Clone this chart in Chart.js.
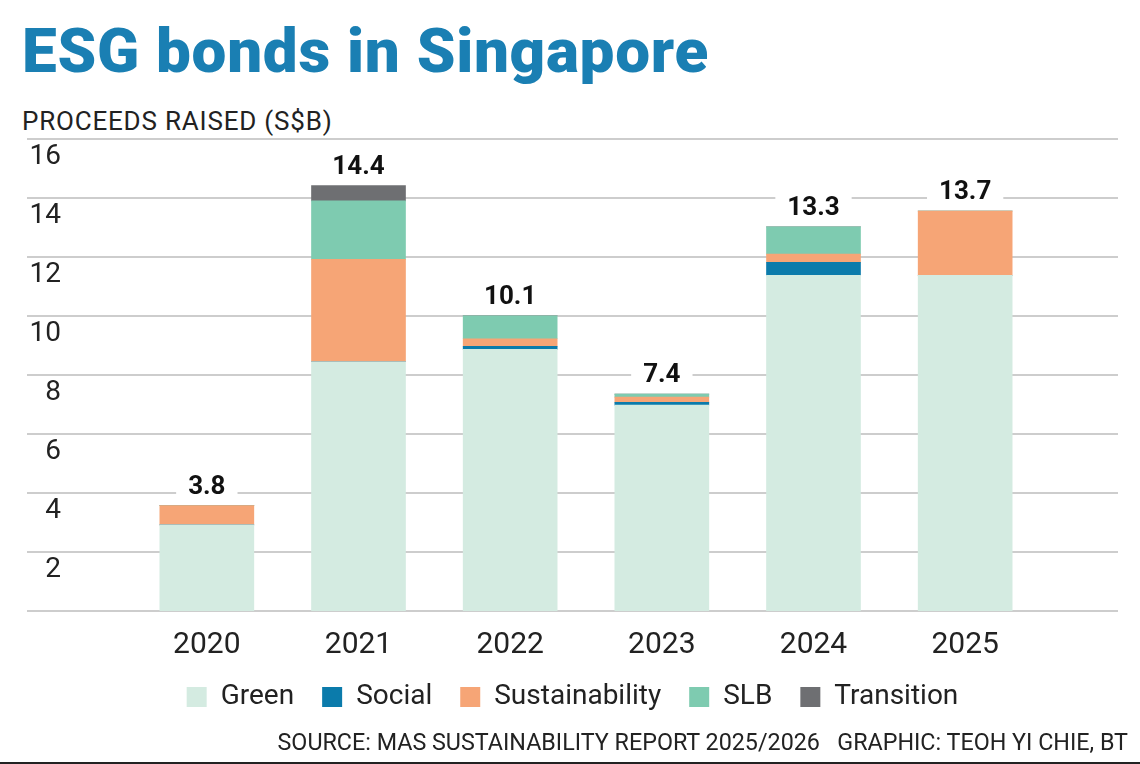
<!DOCTYPE html>
<html>
<head>
<meta charset="utf-8">
<title>ESG bonds in Singapore</title>
<script src="https://cdn.jsdelivr.net/npm/chart.js@4.4.1/dist/chart.umd.min.js"></script>
<style>
  body { margin: 0; background: #fff; width: 1140px; height: 764px; overflow: hidden; position: relative; font-family: Roboto, sans-serif; }
  #title { position: absolute; left: 22px; top: 20px; font-size: 62px; line-height: 62px; font-weight: 900; color: #1a7fb3; letter-spacing: 0.7px; white-space: nowrap; }
  #subtitle { position: absolute; left: 22px; top: 108px; font-size: 26px; line-height: 26px; color: #222; letter-spacing: 0.8px; white-space: nowrap; }
  #source { position: absolute; right: 12px; top: 731px; font-size: 23.3px; line-height: 23px; color: #222; white-space: pre; }
  #rule { position: absolute; left: 0; width: 1140px; top: 762px; height: 2px; background: #222; }
  #wrap { position: absolute; left: 0; top: 0; width: 1140px; height: 764px; }
</style>
</head>
<body>
<div id="title">ESG bonds in Singapore</div>
<div id="subtitle">PROCEEDS RAISED (S$B)</div>
<div id="wrap"><canvas id="esg_chart"></canvas></div>
<div id="source">SOURCE: MAS SUSTAINABILITY REPORT 2025/2026   GRAPHIC: TEOH YI CHIE, BT</div>
<div id="rule"></div>
<script>
// values (S$b)
const years = ['2020', '2021', '2022', '2023', '2024', '2025'];
const green = [2.92, 8.45, 8.87, 6.98, 11.38, 11.38];
const social = [0, 0, 0.10, 0.09, 0.44, 0];
const sustainability = [0.65, 3.47, 0.26, 0.18, 0.28, 2.18];
const slb = [0, 1.98, 0.78, 0.10, 0.92, 0];
const transition = [0, 0.52, 0, 0, 0, 0];
const totals = ['3.8', '14.4', '10.1', '7.4', '13.3', '13.7'];

const colours = {
    green: '#d4ebe1',
    social: '#0b7bab',
    sustainability: '#f6a576',
    slb: '#7ecbb0',
    transition: '#6e6f72'
};

// gridlines run past the bars, from the left axis to the right spacer axis
const gridLines = {
    id: 'gridLines',
    beforeDatasetsDraw(chart) {
        const ctx = chart.ctx;
        const y = chart.scales.y;
        const left = y.left;
        const right = chart.scales.y2.right;
        ctx.save();
        ctx.strokeStyle = '#bcbcbc';
        ctx.lineWidth = 1.6;
        y.ticks.forEach(function (t) {
            const py = y.getPixelForValue(t.value);
            ctx.beginPath();
            ctx.moveTo(left, py);
            ctx.lineTo(right, py);
            ctx.stroke();
        });
        ctx.restore();
    }
};

// total above each stack, on a white patch that cuts the gridline
const totalLabels = {
    id: 'totalLabels',
    afterDatasetsDraw(chart) {
        const ctx = chart.ctx;
        const y = chart.scales.y;
        const meta = chart.getDatasetMeta(0);
        ctx.save();
        ctx.font = 'bold 26px Roboto, sans-serif';
        ctx.textAlign = 'center';
        ctx.textBaseline = 'alphabetic';
        for (var i = 0; i < years.length; i++) {
            var sum = 0;
            chart.data.datasets.forEach(function (ds) { sum += ds.data[i] || 0; });
            const x = meta.data[i].x;
            const base = y.getPixelForValue(sum) - 12;
            const w = ctx.measureText(totals[i]).width;
            ctx.fillStyle = '#fff';
            ctx.fillRect(x - w / 2 - 12, base - 24, w + 24, 28);
            ctx.fillStyle = '#111';
            ctx.fillText(totals[i], x, base);
        }
        ctx.restore();
    }
};

const datasets = [
    { label: 'Green', data: green, backgroundColor: colours.green },
    { label: 'Social', data: social, backgroundColor: colours.social },
    { label: 'Sustainability', data: sustainability, backgroundColor: colours.sustainability },
    { label: 'SLB', data: slb, backgroundColor: colours.slb },
    { label: 'Transition', data: transition, backgroundColor: colours.transition }
];

var canvas = document.getElementById('esg_chart');
var chart = new Chart(canvas, {
    type: 'bar',
    data: { labels: years, datasets: datasets },
    plugins: [gridLines, totalLabels],
    options: {
        responsive: true,
        maintainAspectRatio: false,
        animation: false,
        datasets: { bar: { barThickness: 94, borderWidth: 0 } },
        layout: { padding: { left: 27, right: 22, top: 139, bottom: 43 } },
        plugins: {
            tooltip: { enabled: false },
            legend: {
                position: 'bottom',
                labels: {
                    boxWidth: 20,
                    boxHeight: 20,
                    padding: 28,
                    color: '#222',
                    font: { family: 'Roboto', size: 28 }
                }
            }
        },
        scales: {
            x: {
                stacked: true,
                grid: { display: false },
                border: { display: false },
                ticks: { color: '#222', padding: 11, font: { family: 'Roboto', size: 30, lineHeight: 1 } },
                afterFit: function (s) { s.height = 44; }
            },
            y: {
                stacked: true,
                min: 0,
                max: 16,
                grid: { display: false },
                border: { display: false },
                ticks: {
                    stepSize: 2,
                    padding: 62,
                    labelOffset: 18,
                    color: '#222',
                    font: { family: 'Roboto', size: 28 },
                    callback: function (v) { return v === 0 ? '' : v; }
                },
                afterFit: function (s) { s.width = 104; }
            },
            y2: {
                position: 'right',
                min: 0,
                max: 16,
                display: true,
                grid: { display: false },
                border: { display: false },
                ticks: { display: false },
                afterFit: function (s) { s.width = 77; }
            }
        }
    }
});
</script>
</body>
</html>
